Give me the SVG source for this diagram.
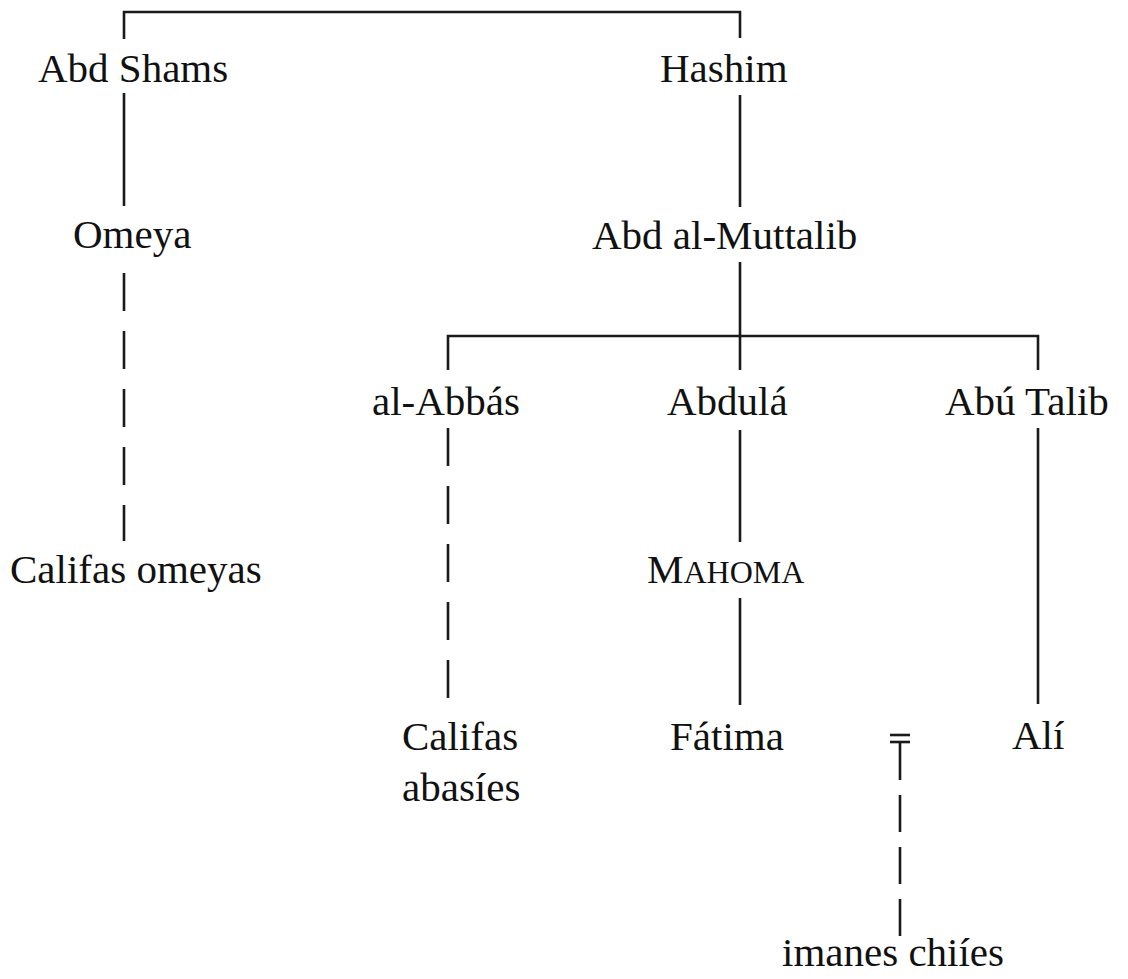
<svg xmlns="http://www.w3.org/2000/svg" width="1128" height="979" viewBox="0 0 1128 979">
<style>
text{font-family:"Liberation Serif","Times New Roman",serif;font-size:41px;fill:#111}
.sc{font-size:32px}
.l{stroke:#1a1a1a;stroke-width:2.6;fill:none}
.d{stroke:#1a1a1a;stroke-width:2.6;fill:none;stroke-dasharray:38 20}
</style>
<rect width="1128" height="979" fill="#fff"/>
<g id="connectors">
<polyline class="l" points="124,39 124,12 740,12 740,38"/>
<line class="l" x1="124" y1="93" x2="124" y2="206"/>
<line class="l" x1="740" y1="95" x2="740" y2="207"/>
<line class="d" x1="124" y1="273" x2="124" y2="541"/>
<line class="l" x1="740" y1="262" x2="740" y2="370"/>
<polyline class="l" points="448,370 448,336 1038,336 1038,370"/>
<line class="d" x1="448" y1="428" x2="448" y2="701"/>
<line class="l" x1="740" y1="430" x2="740" y2="542"/>
<line class="l" x1="740" y1="598" x2="740" y2="705"/>
<line class="l" x1="1038" y1="428" x2="1038" y2="704"/>
<line class="l" x1="890" y1="735" x2="910" y2="735"/>
<line class="l" x1="890" y1="742" x2="910" y2="742"/>
<line class="l" x1="900" y1="742" x2="900" y2="780"/>
<line class="d" x1="900" y1="795" x2="900" y2="936" style="stroke-dasharray:37 15"/>
</g>
<g id="abd-shams"><text x="38" y="82">Abd Shams</text></g>
<g id="hashim"><text x="660" y="82">Hashim</text></g>
<g id="omeya"><text x="73" y="248">Omeya</text></g>
<g id="abd-al-muttalib"><text x="592" y="249">Abd al-Muttalib</text></g>
<g id="al-abbas"><text x="372" y="415">al-Abbás</text></g>
<g id="abdula"><text x="667" y="415">Abdulá</text></g>
<g id="abu-talib"><text x="945" y="415">Abú Talib</text></g>
<g id="califas-omeyas"><text x="10" y="583">Califas omeyas</text></g>
<g id="mahoma"><text x="647" y="583">M<tspan class="sc">AHOMA</tspan></text></g>
<g id="califas-abasies"><text x="402" y="750">Califas</text><text x="402" y="801">abasíes</text></g>
<g id="fatima"><text x="670" y="750">Fátima</text></g>
<g id="ali"><text x="1012" y="749">Alí</text></g>
<g id="imanes-chiies"><text x="782" y="966">imanes chiíes</text></g>
</svg>
